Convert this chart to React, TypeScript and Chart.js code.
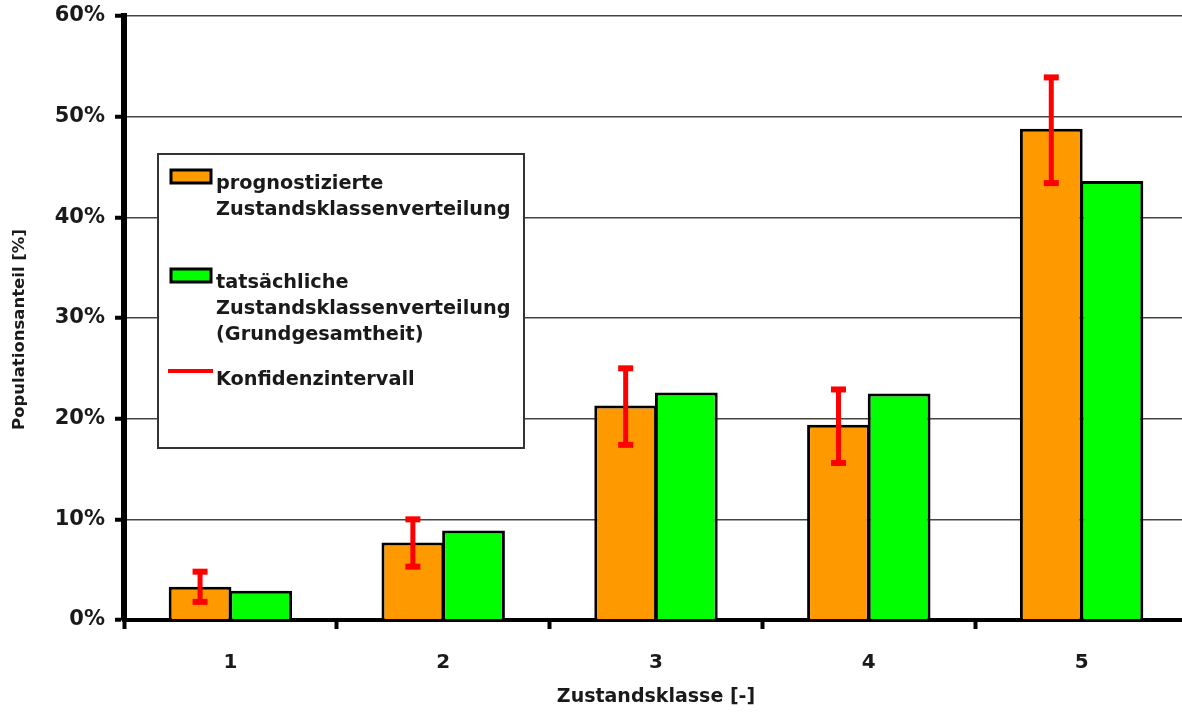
import React, { useEffect, useRef } from 'react';
import { Chart, registerables } from 'chart.js';

Chart.register(...registerables);

const categories = ['1', '2', '3', '4', '5'];
const predicted = [3.3, 7.7, 21.3, 19.4, 48.8];
const actual = [2.9, 8.9, 22.6, 22.5, 43.6];
const ciLow = [1.8, 5.3, 17.4, 15.6, 43.4];
const ciHigh = [4.8, 10.0, 25.0, 22.9, 53.9];
const yMin = 0;
const yMax = 60;
const yStep = 10;

const predictedLabel = ['prognostizierte', 'Zustandsklassenverteilung'];
const actualLabel = ['tatsächliche', 'Zustandsklassenverteilung', '(Grundgesamtheit)'];
const ciLabel = ['Konfidenzintervall'];
const xTitle = 'Zustandsklasse [-]';
const yTitle = 'Populationsanteil [%]';

const ORANGE = '#FF9900';
const GREEN = '#00FF00';
const RED = '#FF0000';
const FONT = "'DejaVu Sans', 'Liberation Sans', sans-serif";
const TEXT = '#1a1a1a';

const errorBarPlugin = {
  id: 'errorBars',
  afterDatasetsDraw(chart: any) {
    const { ctx } = chart;
    const meta = chart.getDatasetMeta(0);
    const yScale = chart.scales.y;
    ctx.save();
    ctx.strokeStyle = RED;
    ctx.fillStyle = RED;
    meta.data.forEach((bar: any, i: number) => {
      const x = bar.x;
      const yHi = yScale.getPixelForValue(ciHigh[i]);
      const yLo = yScale.getPixelForValue(ciLow[i]);
      ctx.lineWidth = 5;
      ctx.beginPath();
      ctx.moveTo(x, yHi);
      ctx.lineTo(x, yLo);
      ctx.stroke();
      ctx.fillRect(x - 7.5, yHi - 3, 15, 6);
      ctx.fillRect(x - 7.5, yLo - 3, 15, 6);
    });
    ctx.restore();
  },
};

const legendPlugin = {
  id: 'customLegend',
  afterDraw(chart: any) {
    const { ctx } = chart;
    ctx.save();
    ctx.fillStyle = '#ffffff';
    ctx.fillRect(158, 154, 366, 294);
    ctx.strokeStyle = '#333333';
    ctx.lineWidth = 2;
    ctx.strokeRect(158, 154, 366, 294);

    ctx.lineWidth = 3;
    ctx.strokeStyle = '#000';
    ctx.fillStyle = ORANGE;
    ctx.fillRect(171, 170, 40, 13);
    ctx.strokeRect(171, 170, 40, 13);
    ctx.fillStyle = GREEN;
    ctx.fillRect(171, 269, 40, 13);
    ctx.strokeRect(171, 269, 40, 13);

    ctx.fillStyle = RED;
    ctx.fillRect(168, 369, 45, 4);

    ctx.fillStyle = TEXT;
    ctx.font = `bold 19.3px ${FONT}`;
    ctx.textAlign = 'left';
    ctx.textBaseline = 'alphabetic';
    predictedLabel.forEach((t, i) => ctx.fillText(t, 216, 189 + i * 26));
    actualLabel.forEach((t, i) => ctx.fillText(t, 216, 288 + i * 26));
    ciLabel.forEach((t, i) => ctx.fillText(t, 216, 385 + i * 26));
    ctx.restore();
  },
};

export default function App() {
  const ref = useRef<HTMLCanvasElement>(null);

  useEffect(() => {
    document.body.style.margin = '0';
    const chart = new Chart(ref.current!, {
      type: 'bar',
      data: {
        labels: categories,
        datasets: [
          {
            label: predictedLabel.join(' '),
            data: predicted,
            backgroundColor: ORANGE,
            borderColor: '#000',
            borderWidth: 3,
          },
          {
            label: actualLabel.join(' '),
            data: actual,
            backgroundColor: GREEN,
            borderColor: '#000',
            borderWidth: 3,
          },
        ],
      },
      options: {
        animation: false,
        responsive: false,
        devicePixelRatio: 1,
        categoryPercentage: 0.57,
        barPercentage: 1.035,
        layout: { padding: { top: 16, right: 2, left: 0, bottom: 0 } },
        plugins: {
          legend: { display: false },
          tooltip: { enabled: false },
        },
        scales: {
          x: {
            afterFit(scale: any) {
              scale.height = 96;
              scale.paddingLeft = 0;
              scale.paddingRight = 0;
            },
            grid: {
              display: true,
              drawOnChartArea: false,
              drawTicks: true,
              tickLength: 9,
              tickWidth: 4,
              tickColor: '#000',
              offset: true,
            },
            border: { display: true, color: '#000', width: 4 },
            ticks: {
              color: TEXT,
              font: { family: FONT, size: 20, weight: 'bold' },
              padding: 22,
            },
            title: {
              display: true,
              text: xTitle,
              color: TEXT,
              font: { family: FONT, size: 19, weight: 'bold', lineHeight: 1.2 },
              padding: { top: 0, bottom: 8 },
            },
          },
          y: {
            min: yMin,
            max: yMax,
            afterFit(scale: any) {
              scale.width = 124;
              scale.paddingTop = 0;
              scale.paddingBottom = 0;
            },
            grid: {
              color: '#444',
              lineWidth: 1.5,
              drawTicks: true,
              tickLength: 9,
              tickWidth: 4,
              tickColor: '#000',
            },
            border: { display: true, color: '#000', width: 6 },
            ticks: {
              stepSize: yStep,
              color: TEXT,
              font: { family: FONT, size: 21, weight: 'bold' },
              padding: 10,
              callback: (v: any) => `${v}%`,
            },
            title: {
              display: true,
              text: yTitle + '    ',
              color: TEXT,
              font: { family: FONT, size: 16.5, weight: 'bold', lineHeight: 1.2 },
              padding: { top: 10, bottom: 0 },
            },
          },
        },
      },
      plugins: [errorBarPlugin, legendPlugin],
    });
    return () => chart.destroy();
  }, []);

  return (
    <div
      style={{
        position: 'fixed',
        left: 0,
        top: 0,
        width: 1182,
        height: 716,
        overflow: 'hidden',
        background: '#fff',
      }}
    >
      <canvas ref={ref} width={1190} height={716} style={{ display: 'block' }} />
    </div>
  );
}
